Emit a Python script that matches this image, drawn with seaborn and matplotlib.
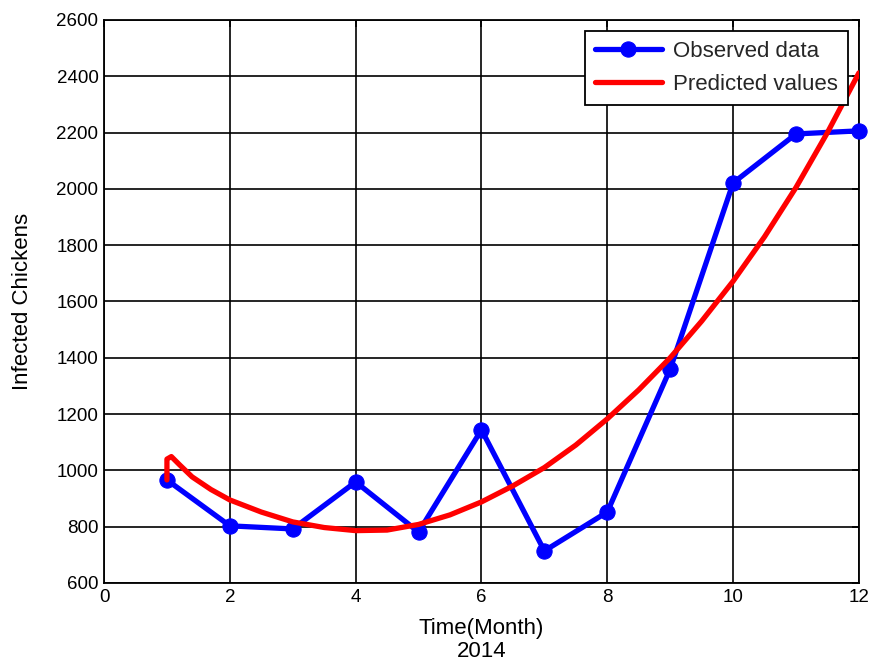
import numpy as np
import pandas as pd
import matplotlib
matplotlib.use("Agg")
import matplotlib.pyplot as plt
import seaborn as sns

# observed monthly counts (2014)
months = [1, 2, 3, 4, 5, 6, 7, 8, 9, 10, 11, 12]
observed = [966, 803, 792, 959, 781, 1144, 714, 852, 1360, 2021, 2195, 2206]

# predicted curve
pred_t = [1.0, 1.0, 1.07, 1.2, 1.4, 1.7, 2.0, 2.5, 3.0, 3.5, 4.0, 4.5, 5.0, 5.5, 6.0,
          6.5, 7.0, 7.5, 8.0, 8.5, 9.0, 9.5, 10.0, 10.5, 11.0, 11.5, 12.0]
pred_v = [966, 1040, 1049, 1020, 977, 932, 895, 852, 817, 797, 786, 788, 808, 842, 888,
          945, 1010, 1090, 1183, 1286, 1400, 1530, 1672, 1830, 2005, 2200, 2412]

xticks = [0, 2, 4, 6, 8, 10, 12]
yticks = list(range(600, 2601, 200))

sns.set_theme(style="white")
plt.rcParams['font.family'] = ['Liberation Sans', 'DejaVu Sans']

fig = plt.figure(figsize=(8.72, 6.64), dpi=100)
ax = fig.add_axes([0.1193, 0.122, 0.8657, 0.848])

df_obs = pd.DataFrame({'t': months, 'v': observed})
df_pred = pd.DataFrame({'t': pred_t, 'v': pred_v})

sns.lineplot(data=df_obs, x='t', y='v', ax=ax, color='#0000ff', linewidth=3.8,
             marker='o', markersize=11, markeredgecolor='#0000ff',
             estimator=None, sort=False, label='Observed data', clip_on=False, zorder=3)
sns.lineplot(data=df_pred, x='t', y='v', ax=ax, color='#ff0000', linewidth=3.8,
             estimator=None, sort=False, label='Predicted values', zorder=4)

ax.set_xlim(0, 12)
ax.set_ylim(600, 2600)
ax.set_xticks(xticks)
ax.set_yticks(yticks)
ax.grid(True, color='black', linewidth=1.2, linestyle='-')
ax.set_axisbelow(True)
for s in ax.spines.values():
    s.set_color('black')
    s.set_linewidth(1.3)
ax.tick_params(axis='both', direction='in', length=5, labelsize=13.5, colors='black',
               top=True, right=True, pad=4)

ax.set_xlabel('Time(Month)\n2014', fontsize=16, color='black', labelpad=9, linespacing=1.1)
ax.set_ylabel('Infected Chickens', fontsize=16, color='black', labelpad=17)

leg = ax.legend(loc='upper right', fontsize=16, frameon=True, fancybox=False,
                edgecolor='black', framealpha=1, borderaxespad=0.5,
                handlelength=3.0, labelspacing=0.55, borderpad=0.45, handletextpad=0.5)
leg.get_frame().set_linewidth(1.3)

fig.savefig('out.png', dpi=100)
